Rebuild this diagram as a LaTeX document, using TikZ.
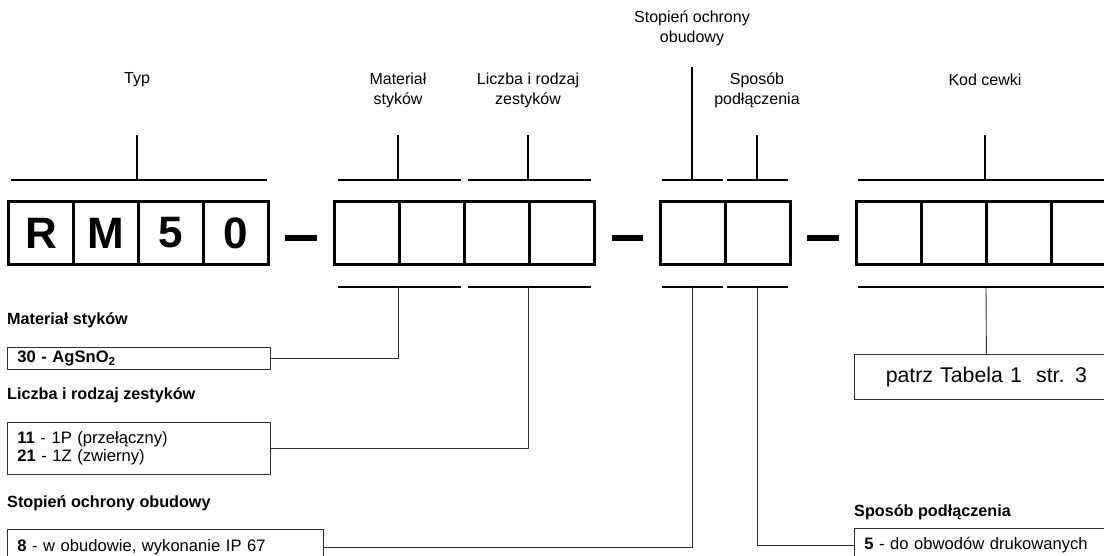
\documentclass[tikz,border=0pt]{standalone}
\usepackage{fontspec}
\setmainfont{Liberation Sans}
\usetikzlibrary{positioning}
\tikzset{
  cell/.style={draw, line width=3pt, minimum width=65pt, minimum height=63pt, inner sep=0pt,
    font=\fontsize{44}{44}\selectfont\bfseries},
  sepbar/.style={line width=6pt},
  brace/.style={line width=1.3pt},
  lead/.style={line width=0.9pt, black!80},
  toplabel/.style={align=center, inner sep=0pt, font=\fontsize{16}{20}\selectfont},
  heading/.style={anchor=west, inner sep=0pt, font=\fontsize{16.2}{18}\selectfont\bfseries},
  optbox/.style={draw=black!80, line width=0.8pt, anchor=north west, inner xsep=10pt, inner ysep=0pt,
    align=left, font=\fontsize{16.6}{18}\selectfont},
  refbox/.style={draw=black!80, line width=0.8pt, anchor=north west, inner sep=0pt,
    align=center, font=\fontsize{21.3}{24}\selectfont}
}
\begin{document}
\begin{tikzpicture}[x=1pt, y=-1pt]
  \clip (0,0) rectangle (1104,555);

  % Code fields
  \foreach \i/\ch in {1/R,2/M,3/5,4/0}
    \node[cell] (typ\i) at ({41+65*(\i-1)},233) {\ch};
  \foreach \i in {1,...,4}
    \node[cell] (sty\i) at ({367+65*(\i-1)},233) {};
  \foreach \i in {1,2}
    \node[cell] (obu\i) at ({693+65*(\i-1)},233) {};
  \foreach \i in {1,...,4}
    \node[cell] (cew\i) at ({889+65*(\i-1)},233) {};

  % Dashes between the fields
  \draw[sepbar] (285,238) -- (317,238);
  \draw[sepbar] (612,238) -- (643,238);
  \draw[sepbar] (807,238) -- (839,238);

  % Labels above
  \node[toplabel] (typlbl) at (137,80) {Typ};
  \node[toplabel] (matlbl) at (398,90) {Materiał\\styków};
  \node[toplabel] (lczlbl) at (528,90) {Liczba i rodzaj\\zestyków};
  \node[toplabel] (stplbl) at (692,28) {Stopień ochrony\\obudowy};
  \node[toplabel] (spslbl) at (757,90) {Sposób\\podłączenia};
  \node[toplabel] (kodlbl) at (985,80) {Kod cewki};

  % Brackets above the fields
  \foreach \xa/\xb/\xm/\yt in {11/267/137/135, 338/461/398/135, 468/591/528/135,
                               662/723/692/67, 727/788/757/135, 858/1114/985/135}
    \draw[brace] (\xa,180) -- (\xb,180) (\xm,180) -- (\xm,\yt);

  % Brackets below the fields
  \foreach \xa/\xb in {338/461, 468/591, 662/723, 727/788, 858/1114}
    \draw[brace] (\xa,287) -- (\xb,287);
  \coordinate (matB) at (398,287);
  \coordinate (lczB) at (528,287);
  \coordinate (stpB) at (692,287);
  \coordinate (spsB) at (757,287);
  \coordinate (kodB) at (986,287);

  % Option boxes
  \node[heading] (mathd) at (7,320) {Materiał styków};
  \node[optbox, text width=243pt, minimum height=22pt] (matbox) at (7,347)
    {\textbf{30 - AgSnO\textsubscript{2}}};
  \node[heading] (lczhd) at (7,395) {Liczba i rodzaj zestyków};
  \node[optbox, text width=243pt, minimum height=52pt] (lczbox) at (7,422)
    {\textbf{11} - 1P (przełączny)\\\textbf{21} - 1Z (zwierny)};
  \node[heading] (stphd) at (7,503) {Stopień ochrony obudowy};
  \node[optbox, text width=296pt, minimum height=36pt] (stpbox) at (7,529)
    {\textbf{8} - w obudowie, wykonanie IP 67};
  \node[refbox, text width=264pt, minimum height=45pt] (kodbox) at (854,354)
    {patrz Tabela 1~ str. 3};
  \node[heading] (spshd) at (854,512) {Sposób podłączenia};
  \node[optbox, text width=250pt, minimum height=34pt] (spsbox) at (854,528)
    {\textbf{5} - do obwodów drukowanych};

  % Leads
  \draw[lead] (matB) |- (matbox.east);
  \draw[lead] (lczB) |- (lczbox.east);
  \draw[lead] (stpB) |- (stpbox.east);
  \draw[lead] (spsB) |- (spsbox.west);
  \draw[lead] (kodB) -- (kodbox.north);

\end{tikzpicture}
\end{document}
